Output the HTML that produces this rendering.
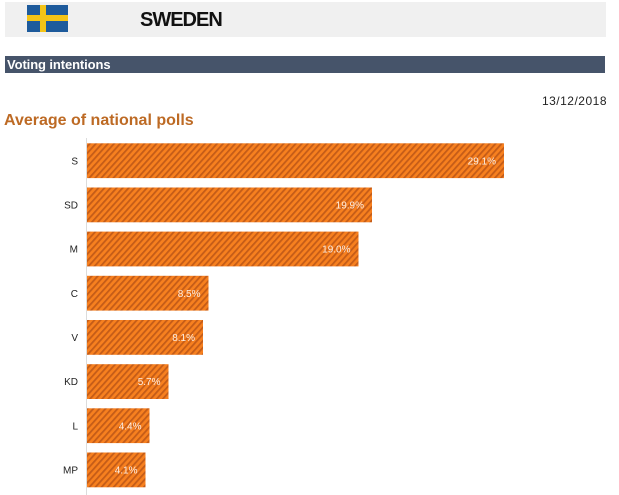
<!DOCTYPE html>
<html>
<head>
<meta charset="utf-8">
<style>
  html,body{margin:0;padding:0;background:#fff;}
  body{width:619px;height:495px;position:relative;overflow:hidden;font-family:"Liberation Sans",Arial,sans-serif;}
  .hdr{position:absolute;left:5px;top:2px;width:601px;height:35px;background:#f0f0f0;}
  .title{position:absolute;left:140px;top:8px;font-size:20px;font-weight:bold;color:#111;letter-spacing:-1px;line-height:24px;}
  .band{position:absolute;left:5px;top:56px;width:600px;height:17px;background:#46546a;}
  .band span{position:absolute;left:2px;top:0px;font-size:13px;font-weight:bold;color:#fff;letter-spacing:-0.1px;line-height:17px;}
  .date{position:absolute;right:12px;top:94px;font-size:12px;color:#222;letter-spacing:0.5px;line-height:14px;}
  .sub{position:absolute;left:4px;top:112px;font-size:16px;font-weight:bold;color:#bd6a24;letter-spacing:0px;line-height:18px;}
</style>
</head>
<body>
<div class="hdr"></div>
<svg style="position:absolute;left:0;top:0" width="619" height="495">
  <rect x="27" y="5" width="41" height="27" fill="#1e5b9c"/>
  <rect x="40" y="5" width="6" height="27" fill="#f4c417"/>
  <rect x="27" y="15" width="41" height="6" fill="#f4c417"/>
</svg>
<div class="title">SWEDEN</div>
<div class="band"><span>Voting intentions</span></div>
<div class="date">13/12/2018</div>
<div class="sub">Average of national polls</div>

<svg style="position:absolute;left:0;top:0" width="619" height="495" font-family="Liberation Sans, Arial, sans-serif">
  <defs>
    <pattern id="h" patternUnits="userSpaceOnUse" width="4.5" height="4.5" patternTransform="rotate(42)">
      <rect width="4.5" height="4.5" fill="#f7801f"/>
      <rect width="1.8" height="4.5" fill="#c45c18"/>
    </pattern>
  </defs>
  <line x1="86.5" y1="138" x2="86.5" y2="495" stroke="#dcdcdc" stroke-width="1"/>
  <g font-size="10" fill="#222" text-anchor="end">
    <text x="78" y="164.3">S</text>
    <text x="78" y="208.5">SD</text>
    <text x="78" y="252.6">M</text>
    <text x="78" y="296.8">C</text>
    <text x="78" y="341.0">V</text>
    <text x="78" y="385.2">KD</text>
    <text x="78" y="429.3">L</text>
    <text x="78" y="473.5">MP</text>
  </g>
  <g fill="url(#h)">
    <rect x="87" y="143.3" width="417" height="34.8"/>
    <rect x="87" y="187.5" width="285" height="34.8"/>
    <rect x="87" y="231.6" width="271.5" height="34.8"/>
    <rect x="87" y="275.8" width="121.5" height="34.8"/>
    <rect x="87" y="320.0" width="116" height="34.8"/>
    <rect x="87" y="364.2" width="81.5" height="34.8"/>
    <rect x="87" y="408.3" width="62.5" height="34.8"/>
    <rect x="87" y="452.5" width="58.5" height="34.8"/>
  </g>
  <g font-size="10" fill="#fdeee2" text-anchor="end">
    <text x="496" y="164.3">29.1%</text>
    <text x="364" y="208.5">19.9%</text>
    <text x="350.5" y="252.6">19.0%</text>
    <text x="200.5" y="296.8">8.5%</text>
    <text x="195" y="341.0">8.1%</text>
    <text x="160.5" y="385.2">5.7%</text>
    <text x="141.5" y="429.3">4.4%</text>
    <text x="137.5" y="473.5">4.1%</text>
  </g>
</svg>
</body>
</html>
